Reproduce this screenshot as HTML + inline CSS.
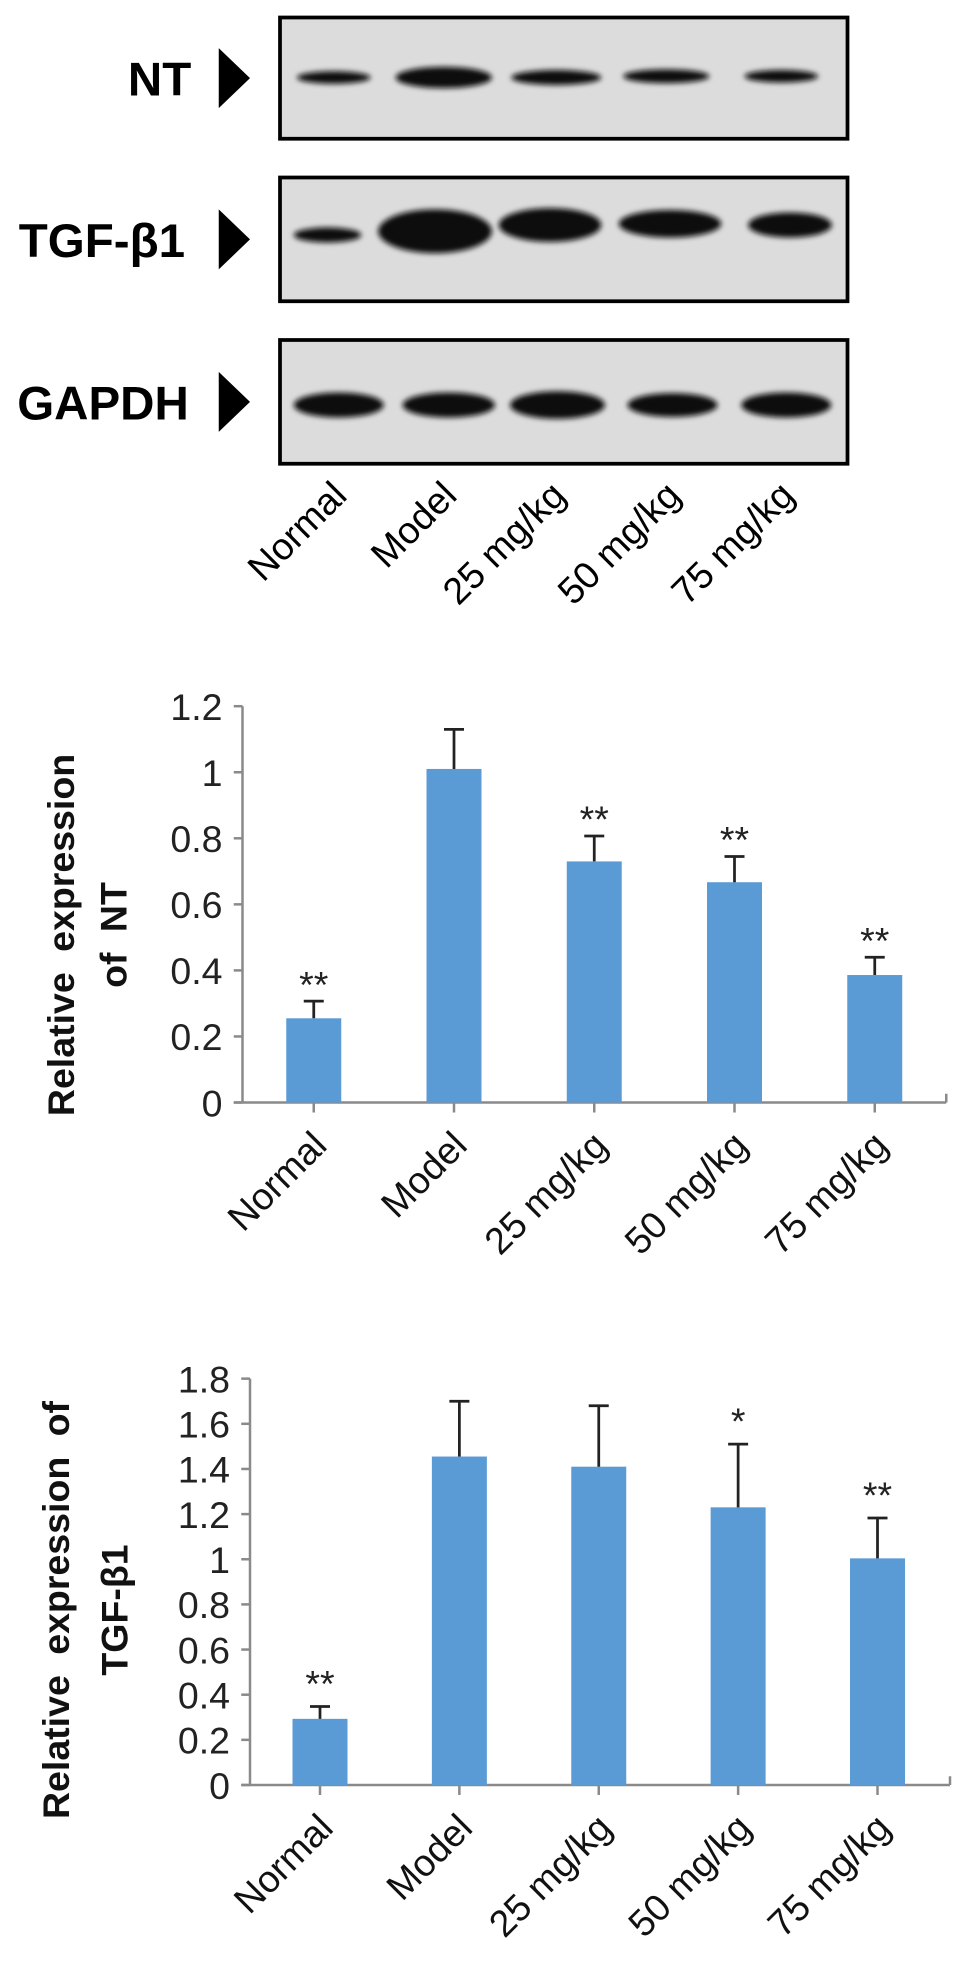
<!DOCTYPE html>
<html><head><meta charset="utf-8"><style>
html,body{margin:0;padding:0;background:#fff}
svg{display:block;font-family:"Liberation Sans","Noto Sans CJK SC",sans-serif}
</style></head><body>
<svg id="fig" width="969" height="1969" viewBox="0 0 775.2 1575.2">
<defs>
<filter id="blur" x="-30%" y="-80%" width="160%" height="260%"><feGaussianBlur stdDeviation="2.2"/></filter>
</defs>
<g id="blot"></g>
<g id="chart1"></g>
<g id="chart2"></g>
</svg>
<script>
const categories = ["Normal","Model","25 mg/kg","50 mg/kg","75 mg/kg"];
const ntValues = [0.255, 1.01, 0.73, 0.667, 0.386];
const ntErrors = [0.307, 1.13, 0.807, 0.745, 0.44];
const ntSig = ["**","","**","**","**"];
const ntTicks = ["0","0.2","0.4","0.6","0.8","1","1.2"];
const tgfValues = [0.293, 1.455, 1.41, 1.23, 1.004];
const tgfErrors = [0.348, 1.70, 1.68, 1.51, 1.183];
const tgfSig = ["**","","","*","**"];
const tgfTicks = ["0","0.2","0.4","0.6","0.8","1","1.2","1.4","1.6","1.8"];
const blotRows = ["NT","TGF-β1","GAPDH"];
const NS = "http://www.w3.org/2000/svg";
function mk(parent, tag, attrs, text){
  const e = document.createElementNS(NS, tag);
  for (const k in attrs) e.setAttribute(k, attrs[k]);
  if (text !== undefined) e.textContent = text;
  parent.appendChild(e); return e;
}
const BLUE = "#5b9bd5";

/* ---------- western blot ---------- */
const blot = document.getElementById('blot');
const boxes = [{y:14,h:97},{y:142,h:99},{y:272,h:99}];
const labelX = [153,148,151];
const bands = [
  {xs:[267,355,445,533,625], ws:[59,77,72,69,59], hs:[10,17,12,11,10], ys:[62,62,62,61,61]},
  {xs:[262,348,440,536,632], ws:[54,91,82,82,67], hs:[12,35,27,22,20], ys:[188,185,180,179,180]},
  {xs:[271,359,446,538,629], ws:[72,74,76,72,72], hs:[20,20,22,19,20], ys:[324,324,324,324,324]}
];
blotRows.forEach((name,i)=>{
  const b = boxes[i];
  const r = mk(blot,'rect',{x:224,y:b.y,width:454,height:b.h,fill:'#dcdcdc',stroke:'#000','stroke-width':3});
  
  
  const cy = b.y + b.h/2;
  const t = mk(blot,'text',{x:labelX[i],y:cy+14,'text-anchor':'end','font-size':38,'font-weight':'bold',fill:'#000'},name);
  
  
  const a = mk(blot,'polygon',{points:`175,${cy-24} 200,${cy} 175,${cy+24}`,fill:'#000'});
  
  
  const bd = bands[i];
  bd.xs.forEach((x,j)=>{
    const e = mk(blot,'ellipse',{cx:x,cy:bd.ys[j],rx:bd.ws[j]/2,ry:bd.hs[j]/2,fill:'#111',filter:'url(#blur)'});
    
    
  });
});
const laneX = [271,359,446,538,629];
categories.forEach((c,j)=>{
  const x = laneX[j]+8, y = 398;
  const t = mk(blot,'text',{x:x,y:y,'text-anchor':'end','font-size':30,fill:'#000',transform:`rotate(-45 ${x} ${y})`},c);
  
  
});

/* ---------- bar charts ---------- */
function drawChart(gid, cfg){
  const g = document.getElementById(gid);
  const y = v => cfg.y0 - v*cfg.unit;
  const xc = i => cfg.x0 + i*cfg.step;
  const ax = mk(g,'line',{x1:cfg.ax,y1:y(cfg.max),x2:cfg.ax,y2:cfg.y0,stroke:'#8a8a8a','stroke-width':2});
  
  
  cfg.ticks.forEach(tl=>{
    const v = parseFloat(tl);
    mk(g,'line',{x1:cfg.ax-7,y1:y(v),x2:cfg.ax,y2:y(v),stroke:'#8a8a8a','stroke-width':2});
    const t = mk(g,'text',{x:cfg.ax-16,y:y(v)+11,'text-anchor':'end','font-size':30,fill:'#222'},tl);
    
    
  });
  const xa = mk(g,'line',{x1:cfg.ax-7,y1:cfg.y0,x2:cfg.xEnd,y2:cfg.y0,stroke:'#8a8a8a','stroke-width':2});
  
  
  mk(g,'line',{x1:cfg.xEnd,y1:cfg.y0,x2:cfg.xEnd,y2:cfg.y0-7,stroke:'#8a8a8a','stroke-width':2});
  categories.forEach((c,i)=>{
    const x = xc(i);
    mk(g,'line',{x1:x,y1:cfg.y0,x2:x,y2:cfg.y0+8,stroke:'#8a8a8a','stroke-width':2});
    const bar = mk(g,'rect',{x:x-22,y:y(cfg.values[i]),width:44,height:cfg.y0-y(cfg.values[i]),fill:BLUE});
    
    
    const ey = y(cfg.errors[i]);
    const el = mk(g,'path',{d:`M${x} ${y(cfg.values[i])} V${ey} M${x-8} ${ey} H${x+8}`,stroke:'#222','stroke-width':2.2,fill:'none'});
    
    
    if (cfg.sig[i]) {
      const s = mk(g,'text',{x:x,y:ey-cfg.sigGap,'text-anchor':'middle','font-size':30,fill:'#222'},cfg.sig[i]);
      
      
    }
    const lx = x+12, ly = cfg.y0+36;
    const t = mk(g,'text',{x:lx,y:ly,'text-anchor':'end','font-size':30,fill:'#111',transform:`rotate(-45 ${lx} ${ly})`},c);
    
    
  });
  cfg.title.forEach((line,k)=>{
    const tx = cfg.titleX[k], ty = cfg.titleY;
    const t = mk(g,'text',{x:tx,y:ty,'text-anchor':'middle','font-size':30,'font-weight':'bold','word-spacing':8,fill:'#111',transform:`rotate(-90 ${tx} ${ty})`},line);
    
    
  });
}
drawChart('chart1',{values:ntValues,errors:ntErrors,sig:ntSig,ticks:ntTicks,max:1.2,
  y0:882,unit:264.2,ax:194,x0:251,step:112.2,xEnd:757,sigGap:3,
  title:["Relative expression","of NT"],titleX:[59,101],titleY:748});
drawChart('chart2',{values:tgfValues,errors:tgfErrors,sig:tgfSig,ticks:tgfTicks,max:1.8,
  y0:1428,unit:180.6,ax:200,x0:256,step:111.5,xEnd:760,sigGap:8,
  title:["Relative expression of","TGF-β1"],titleX:[55,102],titleY:1288});
</script>
</body></html>
